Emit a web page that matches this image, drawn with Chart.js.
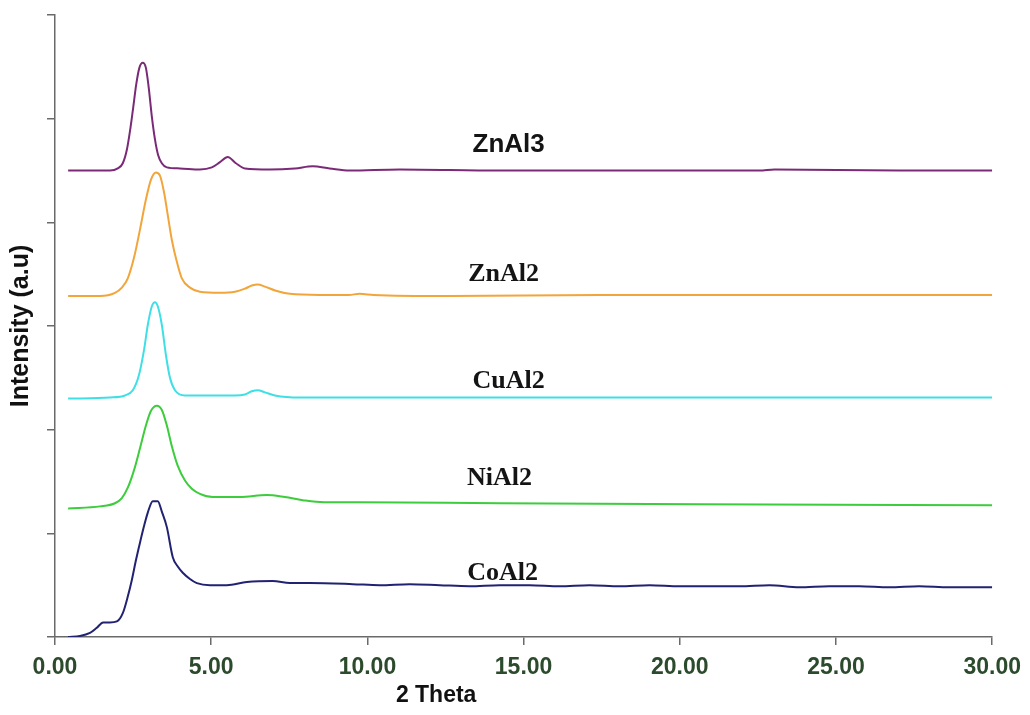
<!DOCTYPE html>
<html>
<head>
<meta charset="utf-8">
<script src="https://cdn.jsdelivr.net/npm/chart.js@4/dist/chart.umd.min.js"></script>
<style>
html,body{margin:0;padding:0;background:#fff;}
#wrap{width:1030px;height:715px;position:relative;}
</style>
</head>
<body>
<div id="wrap"><canvas id="c" width="1030" height="715"></canvas></div>
<script>
// ---- data (2 Theta vs intensity, arbitrary stacked units) ----
const xTickValues = [0, 5, 10, 15, 20, 25, 30];
const seriesNames = ["ZnAl3", "ZnAl2", "CuAl2", "NiAl2", "CoAl2"];

const znAl3X = [0.42,1.12,1.76,2.01,2.17,2.30,2.40,2.50,2.60,2.70,2.81,2.91,3.00,3.10,3.20,3.30,3.42,3.58,4.00,4.64,5.02,5.28,5.53,5.79,6.08,6.88,7.68,8.25,8.79,9.43,11.03,14.23,19.03,22.55,23.03,27.02,30.0];
const znAl3Y = [4.50,4.50,4.50,4.52,4.57,4.70,4.88,5.10,5.33,5.49,5.54,5.49,5.30,5.02,4.80,4.65,4.57,4.53,4.52,4.51,4.53,4.58,4.63,4.57,4.52,4.51,4.52,4.54,4.52,4.50,4.51,4.50,4.50,4.50,4.51,4.50,4.50];

const znAl2X = [0.42,1.44,1.92,2.14,2.33,2.53,2.72,2.91,3.07,3.23,3.36,3.49,3.61,3.74,3.90,4.06,4.32,4.64,5.28,5.76,6.08,6.30,6.49,6.72,7.07,7.52,8.47,9.40,9.75,10.20,12.63,17.43,23.83,30.0];
const znAl2Y = [3.29,3.29,3.32,3.37,3.46,3.66,3.93,4.22,4.41,4.48,4.45,4.29,4.07,3.83,3.62,3.46,3.37,3.33,3.32,3.33,3.36,3.39,3.40,3.38,3.34,3.31,3.30,3.30,3.31,3.30,3.29,3.30,3.30,3.30];

const cuAl2X = [0.42,1.76,2.24,2.49,2.69,2.85,2.97,3.10,3.20,3.29,3.42,3.55,3.68,3.84,4.16,4.96,5.76,6.08,6.30,6.49,6.72,7.04,7.84,9.43,14.23,20.63,30.0];
const cuAl2Y = [2.30,2.31,2.33,2.38,2.53,2.77,3.01,3.19,3.23,3.19,3.01,2.72,2.50,2.38,2.33,2.33,2.33,2.34,2.37,2.38,2.36,2.33,2.31,2.31,2.31,2.31,2.31];

const niAl2X = [0.42,1.44,1.92,2.14,2.33,2.53,2.72,2.91,3.07,3.26,3.42,3.58,3.74,3.93,4.16,4.38,4.64,5.05,5.92,6.78,7.36,7.93,8.60,9.75,14.23,20.63,30.0];
const niAl2Y = [1.24,1.26,1.29,1.34,1.44,1.61,1.82,2.04,2.18,2.23,2.19,2.04,1.84,1.65,1.51,1.43,1.38,1.35,1.35,1.37,1.35,1.32,1.30,1.30,1.29,1.28,1.27];

const coAl2X = [0.42,0.80,1.12,1.34,1.54,1.76,1.98,2.17,2.33,2.46,2.59,2.72,2.85,2.97,3.13,3.29,3.42,3.58,3.77,3.93,4.09,4.32,4.54,4.96,5.50,6.14,6.97,7.52,8.15,9.53,10.39,11.35,12.31,13.27,14.23,15.19,16.15,17.11,18.07,19.03,19.99,20.95,21.91,22.87,23.82,24.78,25.74,26.70,27.66,28.62,30.0];
const coAl2Y = [0.00,0.01,0.04,0.09,0.14,0.14,0.15,0.23,0.39,0.55,0.74,0.91,1.07,1.20,1.31,1.31,1.21,1.06,0.77,0.68,0.62,0.56,0.52,0.50,0.50,0.53,0.54,0.52,0.52,0.51,0.50,0.51,0.50,0.49,0.50,0.50,0.49,0.50,0.49,0.50,0.49,0.49,0.49,0.50,0.48,0.49,0.49,0.48,0.49,0.48,0.48];

const seriesColors = ["#7a2a76", "#f2a53a", "#3fdfe6", "#3ccc3c", "#222272"];
// label anchors in data units: [x centre, y baseline]
const labelPos = [[14.52, 4.68], [14.36, 3.43], [14.52, 2.40], [14.23, 1.47], [14.33, 0.55]];

function pts(xs, ys) { return xs.map((x, i) => ({x: x, y: ys[i]})); }

const allX = [znAl3X, znAl2X, cuAl2X, niAl2X, coAl2X];
const allY = [znAl3Y, znAl2Y, cuAl2Y, niAl2Y, coAl2Y];

const datasets = seriesNames.map((n, i) => ({
  label: n,
  data: pts(allX[i], allY[i]),
  borderColor: seriesColors[i],
  backgroundColor: seriesColors[i],
  borderWidth: 2,
  pointRadius: 0,
  fill: false,
  cubicInterpolationMode: 'monotone'
}));

const labelPlugin = {
  id: 'seriesLabels',
  afterDraw(chart) {
    const ctx = chart.ctx;
    const xs = chart.scales.x, ys = chart.scales.y;
    ctx.save();
    ctx.fillStyle = '#141414';
    ctx.textAlign = 'center';
    ctx.textBaseline = 'alphabetic';
    seriesNames.forEach((n, i) => {
      ctx.font = i === 0 ? 'bold 26px Arial, "Liberation Sans", sans-serif'
                         : 'bold 26px "Times New Roman", "Liberation Serif", serif';
      ctx.fillText(n, xs.getPixelForValue(labelPos[i][0]), ys.getPixelForValue(labelPos[i][1]));
    });
    ctx.font = 'bold 23px Arial, "Liberation Sans", sans-serif';
    ctx.fillStyle = '#111';
    ctx.fillText('2 Theta', xs.getPixelForValue(12.2), 702);
    ctx.restore();
  }
};

new Chart(document.getElementById('c'), {
  type: 'line',
  data: { datasets: datasets },
  options: {
    responsive: false,
    animation: false,
    devicePixelRatio: 1,
    layout: { padding: { left: 0, right: 31, top: 15, bottom: 0 } },
    plugins: { legend: { display: false }, tooltip: { enabled: false } },
    scales: {
      x: {
        type: 'linear', min: 0, max: 30,
        afterFit(s) { s.height = 78; },
        afterBuildTicks(s) { s.ticks = xTickValues.map(v => ({value: v})); },
        ticks: {
          callback: v => v.toFixed(2),
          font: { family: 'Arial, "Liberation Sans", sans-serif', size: 23, weight: 'bold' },
          color: '#2c4a2c',
          padding: 9,
          maxRotation: 0, autoSkip: false
        },
        grid: { drawOnChartArea: false, drawTicks: true, tickLength: 8, color: '#6a6a6a', lineWidth: 1.5 },
        border: { display: true, color: '#6a6a6a', width: 1.5 }
      },
      y: {
        type: 'linear', min: 0, max: 6,
        afterFit(s) { s.width = 55; },
        ticks: { stepSize: 1, display: false },
        grid: { drawOnChartArea: false, drawTicks: true, tickLength: 8, color: '#6a6a6a', lineWidth: 1.5 },
        border: { display: true, color: '#6a6a6a', width: 1.5 },
        title: {
          display: true, text: 'Intensity (a.u)', color: '#111',
          font: { family: 'Arial, "Liberation Sans", sans-serif', size: 25, weight: 'bold' },
          padding: { top: 6, bottom: 0 }
        }
      }
    }
  },
  plugins: [labelPlugin]
});
</script>
</body>
</html>
